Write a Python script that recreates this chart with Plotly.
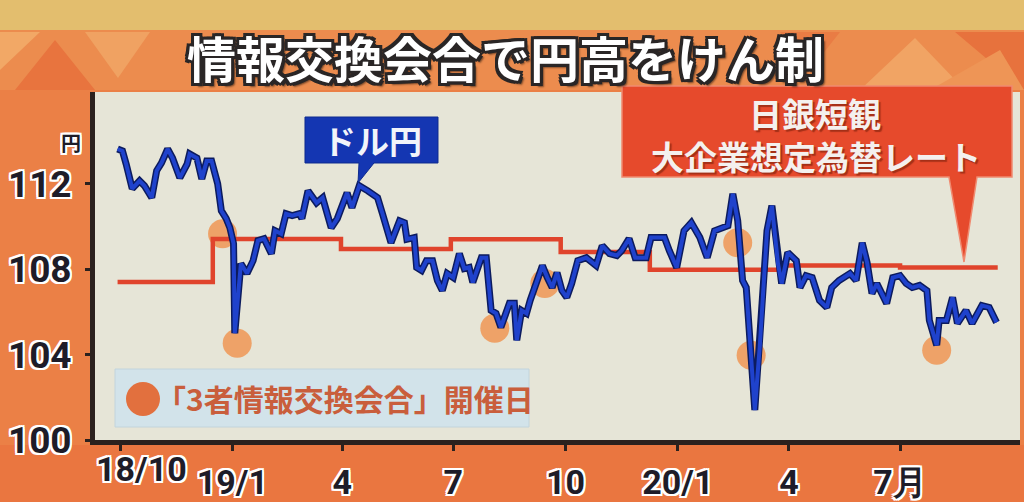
import plotly.graph_objects as go

# ---------------- data ----------------
usd_dates = [
    "2018-09-29", "2018-10-03", "2018-10-06", "2018-10-11", "2018-10-17", "2018-10-21", "2018-10-27",
    "2018-10-31", "2018-11-04", "2018-11-09", "2018-11-13", "2018-11-19", "2018-11-25", "2018-11-27",
    "2018-12-03", "2018-12-07", "2018-12-11", "2018-12-15", "2018-12-20", "2018-12-23", "2018-12-27",
    "2018-12-30", "2019-01-02", "2019-01-03", "2019-01-08", "2019-01-13", "2019-01-18", "2019-01-22",
    "2019-01-27", "2019-02-02", "2019-02-05", "2019-02-10", "2019-02-14", "2019-02-19", "2019-02-25",
    "2019-02-27", "2019-03-04", "2019-03-11", "2019-03-16", "2019-03-23", "2019-03-28", "2019-04-05",
    "2019-04-09", "2019-04-15", "2019-04-22", "2019-04-30", "2019-05-04", "2019-05-11", "2019-05-18",
    "2019-05-22", "2019-05-24", "2019-05-30", "2019-06-01", "2019-06-05", "2019-06-09", "2019-06-14",
    "2019-06-18", "2019-06-22", "2019-06-26", "2019-07-01", "2019-07-06", "2019-07-10", "2019-07-14",
    "2019-07-17", "2019-07-24", "2019-07-28", "2019-08-01", "2019-08-05", "2019-08-09", "2019-08-16",
    "2019-08-20", "2019-08-22", "2019-08-26", "2019-08-30", "2019-09-02", "2019-09-08", "2019-09-12",
    "2019-09-16", "2019-09-20", "2019-09-24", "2019-09-28", "2019-10-02", "2019-10-06", "2019-10-11",
    "2019-10-18", "2019-10-26", "2019-10-31", "2019-11-06", "2019-11-12", "2019-11-16", "2019-11-22",
    "2019-11-27", "2019-12-06", "2019-12-10", "2019-12-21", "2019-12-25", "2019-12-31", "2020-01-06",
    "2020-01-12", "2020-01-19", "2020-01-25", "2020-01-31", "2020-02-07", "2020-02-11", "2020-02-15",
    "2020-02-19", "2020-02-23", "2020-02-26", "2020-03-04", "2020-03-08", "2020-03-14", "2020-03-18",
    "2020-03-23", "2020-03-26", "2020-03-31", "2020-04-07", "2020-04-10", "2020-04-15", "2020-04-20",
    "2020-04-26", "2020-05-02", "2020-05-06", "2020-05-12", "2020-05-21", "2020-05-26", "2020-05-31",
    "2020-06-04", "2020-06-08", "2020-06-12", "2020-06-20", "2020-06-25", "2020-07-01", "2020-07-06",
    "2020-07-11", "2020-07-17", "2020-07-23", "2020-07-25", "2020-07-31", "2020-08-02", "2020-08-08",
    "2020-08-13", "2020-08-17", "2020-08-24", "2020-08-29", "2020-09-06", "2020-09-12", "2020-09-18",
]
usd_values = [
    113.63, 113.54, 112.93, 111.77, 112.14, 111.91, 111.35,
    112.61, 112.98, 113.63, 113.21, 112.28, 112.93, 113.40,
    113.21, 112.23, 113.07, 113.07, 112.00, 110.74, 110.37,
    109.94, 109.20, 105.00, 108.26, 107.80, 108.40, 109.34,
    109.43, 108.73, 109.80, 109.66, 110.60, 110.51, 110.60,
    110.37, 111.67, 111.11, 111.35, 109.94, 110.37, 111.58,
    110.88, 111.91, 111.67, 111.35, 110.60, 109.24, 110.27,
    110.18, 109.40, 109.48, 108.08, 107.94, 108.40, 108.40,
    107.47, 107.00, 107.80, 107.61, 108.73, 108.03, 108.08,
    107.38, 108.54, 108.54, 106.07, 105.93, 105.28, 106.40,
    106.40, 104.67, 106.07, 105.93, 106.54, 107.47, 108.17,
    107.61, 107.14, 107.84, 107.00, 106.68, 107.33, 108.40,
    108.54, 108.17, 109.10, 108.73, 108.64, 108.87, 109.43,
    108.54, 108.54, 109.48, 109.48, 108.87, 108.08, 109.80,
    110.18, 109.48, 108.54, 109.80, 109.94, 110.04, 111.53,
    110.27, 107.47, 107.14, 101.40, 104.34, 109.80, 110.97,
    108.26, 107.33, 108.78, 108.40, 107.14, 107.70, 107.61,
    106.54, 106.21, 107.14, 107.47, 107.80, 107.47, 109.24,
    108.31, 106.86, 107.33, 106.40, 107.61, 107.70, 107.33,
    107.14, 107.24, 107.00, 105.60, 104.44, 105.60, 105.60,
    106.68, 105.46, 106.07, 105.46, 106.30, 106.21, 105.51,
]

tankan_dates = ["2018-09-29", "2018-12-16", "2019-03-31", "2019-06-29", "2019-09-27",
                "2019-12-09", "2020-03-25", "2020-07-01", "2020-09-19"]
tankan_values = [107.40, 109.41, 108.95, 109.40, 108.80, 107.98, 108.17, 108.08, 108.08]

meeting_dates = ["2018-12-24", "2019-01-05", "2019-08-04", "2019-09-14",
                 "2020-02-19", "2020-03-01", "2020-07-31"]
meeting_values = [109.66, 104.53, 105.23, 107.33, 109.24, 103.97, 104.20]

x_tickvals = ["2018-10-01", "2019-01-01", "2019-04-01", "2019-07-01", "2019-10-01",
              "2020-01-01", "2020-04-01", "2020-07-01"]
x_ticktext = ["", "19/1", "4", "7", "10", "20/1", "4", "7月"]
y_tickvals = [100, 104, 108, 112]
y_ticktext = ["100", "104", "108", "112"]

title_text = "情報交換会合で円高をけん制"
usd_label = "ドル円"
tankan_label_1 = "日銀短観"
tankan_label_2 = "大企業想定為替レート"
legend_label = "「3者情報交換会合」開催日"

# ---------------- helpers ----------------
W, H = 1024, 502


def fx(x):
    return x / W


def fy(y):
    return 1 - y / H


def outline(color, w=2):
    offs = [(w, 0), (-w, 0), (0, w), (0, -w), (w, w), (-w, -w), (w, -w), (-w, w)]
    return ", ".join(f"{dx}px {dy}px 0 {color}" for dx, dy in offs)


def path(points):
    s = "M " + " L ".join(f"{fx(x):.5f},{fy(y):.5f}" for x, y in points) + " Z"
    return s


JP = "Noto Sans CJK JP"
NUM = "Roboto"
DARK = "#1E1C28"

fig = go.Figure()

# meeting circles (behind lines)
fig.add_trace(go.Scatter(
    x=meeting_dates, y=meeting_values, mode="markers",
    marker=dict(size=29, color="rgba(238,150,85,0.85)", line=dict(width=0)),
    hoverinfo="skip"))

# tankan step line
fig.add_trace(go.Scatter(
    x=tankan_dates, y=tankan_values, mode="lines", line_shape="hv",
    line=dict(color="#E0442C", width=4.5), hoverinfo="skip"))

# usd/jpy line with dark outline
fig.add_trace(go.Scatter(
    x=usd_dates, y=usd_values, mode="lines",
    line=dict(color="#0C1B5E", width=7), hoverinfo="skip"))
fig.add_trace(go.Scatter(
    x=usd_dates, y=usd_values, mode="lines",
    line=dict(color="#1F42CC", width=4), hoverinfo="skip"))

shapes = []
# background decoration (paper, below plot)
shapes.append(dict(type="rect", xref="paper", yref="paper", x0=0, x1=1, y0=fy(30), y1=1,
                   fillcolor="#E3BE6E", line_width=0, layer="below"))
shapes.append(dict(type="rect", xref="paper", yref="paper", x0=0, x1=1, y0=fy(90), y1=fy(30),
                   fillcolor="#EC8C4E", line_width=0, layer="below"))
for pts, col in [
    ([(15, 90), (55, 40), (95, 90)], "#E8743E"),
    ([(85, 32), (150, 32), (118, 78)], "#F0A262"),
    ([(0, 32), (40, 32), (0, 70)], "#F2A866"),
    ([(860, 90), (915, 38), (965, 90)], "#F1A464"),
    ([(955, 32), (1024, 32), (1024, 90)], "#E7723D"),
    ([(780, 32), (840, 32), (810, 70)], "#E97C44"),
    ([(930, 90), (1000, 50), (1024, 90)], "#EE9556"),
]:
    shapes.append(dict(type="path", xref="paper", yref="paper", path=path(pts),
                       fillcolor=col, line_width=0, layer="below"))
shapes.append(dict(type="rect", xref="paper", yref="paper", x0=0, x1=1, y0=0, y1=fy(445),
                   fillcolor="#EA7640", line_width=0, layer="below"))

# blue callout
shapes.append(dict(type="path", xref="paper", yref="paper",
                   path=path([(305, 117), (438, 117), (438, 163), (374, 163), (358, 183),
                              (359, 163), (305, 163)]),
                   fillcolor="#1436B2", line=dict(color="#0E2A8E", width=1), layer="above"))
# red callout
shapes.append(dict(type="path", xref="paper", yref="paper",
                   path=path([(622, 86), (1012, 86), (1012, 177), (977, 177), (964, 262),
                              (949, 177), (622, 177)]),
                   fillcolor="#E64A2C", line=dict(color="#F08A70", width=1.5), layer="above"))
# legend box
shapes.append(dict(type="rect", xref="paper", yref="paper",
                   x0=fx(115), x1=fx(529), y0=fy(427), y1=fy(369),
                   fillcolor="#D2E3EA", line=dict(color="#C2D4DC", width=1), layer="above"))
shapes.append(dict(type="circle", xref="paper", yref="paper",
                   x0=fx(126), x1=fx(160), y0=fy(416), y1=fy(382),
                   fillcolor="#E2703E", line_width=0, layer="above"))

tank_font = dict(family=JP, size=33, color="#F4F0EE", weight="bold",
                 shadow="2px 2px 1px rgba(120,30,10,0.6)")
annotations = [
    dict(text=title_text, x=fx(505), y=fy(56), xref="paper", yref="paper", showarrow=False,
         xanchor="center", yanchor="middle",
         font=dict(family=JP, size=49, color="#FFFFFF", weight="bold",
                   shadow=outline("#2A2626", 3) + ", 4px 4px 2px rgba(0,0,0,0.5)")),
    dict(text=usd_label, x=fx(372), y=fy(140), xref="paper", yref="paper", showarrow=False,
         xanchor="center", yanchor="middle",
         font=dict(family=JP, size=33, color="#F2F4FA", weight="bold")),
    dict(text=tankan_label_1, x=fx(815), y=fy(113), xref="paper", yref="paper", showarrow=False,
         xanchor="center", yanchor="middle", font=tank_font),
    dict(text=tankan_label_2, x=fx(816), y=fy(156), xref="paper", yref="paper", showarrow=False,
         xanchor="center", yanchor="middle", font=tank_font),
    dict(text=legend_label, x=fx(345), y=fy(398), xref="paper", yref="paper", showarrow=False,
         xanchor="center", yanchor="middle",
         font=dict(family=JP, size=30, color="#C95E3C", weight="bold")),
    dict(text="円", x=fx(71), y=fy(143), xref="paper", yref="paper", showarrow=False,
         xanchor="center", yanchor="middle",
         font=dict(family=JP, size=20, color=DARK, weight="bold", shadow=outline("#FFFFFF", 2))),
    dict(text="18/10", x=fx(141), y=fy(469), xref="paper", yref="paper", showarrow=False,
         xanchor="center", yanchor="middle",
         font=dict(family=NUM, size=34, color=DARK, weight="bold", shadow=outline("#FFFFFF", 2))),
]

fig.update_layout(
    template="none",
    width=W, height=H, margin=dict(l=0, r=0, t=0, b=0, pad=0, autoexpand=False),
    paper_bgcolor="#EB8046", plot_bgcolor="#E6E5D7",
    showlegend=False, shapes=shapes, annotations=annotations,
    xaxis=dict(
        domain=[fx(95), fx(1020)], type="date", automargin=False,
        range=["2018-09-10 12:00", "2020-10-07 06:00"],
        tickmode="array", tickvals=x_tickvals, ticktext=x_ticktext,
        ticks="outside", ticklen=6, tickwidth=3, tickcolor="#2B211E",
        showline=True, linewidth=5, linecolor="#2B211E",
        showgrid=False, zeroline=False, ticklabelstandoff=2,
        tickfont=dict(family=NUM, size=34, color=DARK, weight="bold", shadow=outline("#FFFFFF", 2)),
    ),
    yaxis=dict(
        domain=[fy(440), fy(92)], range=[100, 116.3], automargin=False,
        tickmode="array", tickvals=y_tickvals, ticktext=y_ticktext,
        ticks="outside", ticklen=5, tickwidth=3, tickcolor="#2B211E",
        showline=True, linewidth=5, linecolor="#2B211E",
        showgrid=False, zeroline=False, ticklabelstandoff=6,
        tickfont=dict(family=NUM, size=37, color=DARK, weight="bold", shadow=outline("#FFFFFF", 2)),
    ),
)

fig.write_html(
    "out.html",
    config={"displayModeBar": False},
    post_script="document.body.style.margin='0';document.body.style.overflow='hidden';",
)
